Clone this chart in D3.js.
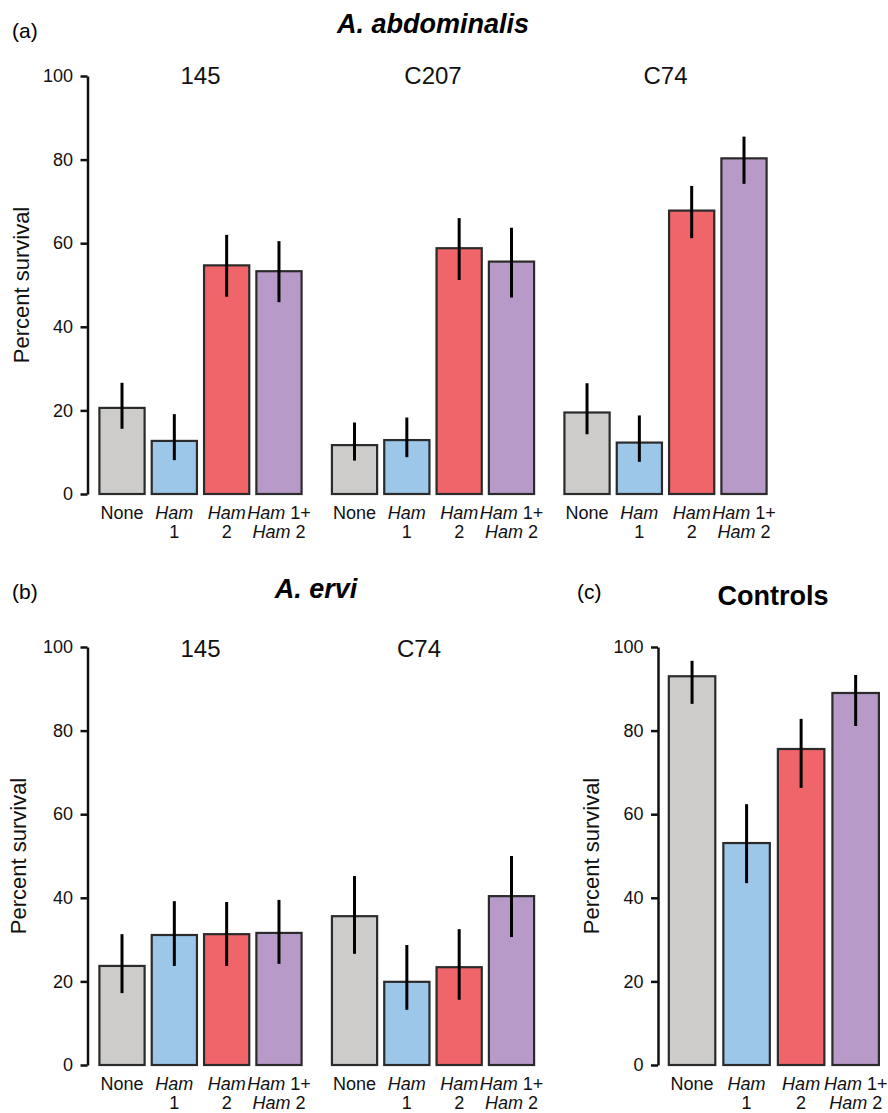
<!DOCTYPE html>
<html>
<head>
<meta charset="utf-8">
<script src="https://cdn.jsdelivr.net/npm/d3@7"></script>
<style>
  body { margin: 0; background: #fff; }
  svg { display: block; font-family: "Liberation Sans", Arial, Helvetica, sans-serif; }
</style>
</head>
<body>
<div id="chart"></div>
<script>
// treatments and tick labels (*...* = italic, | = line break)
const treatments = ['None', 'Ham 1', 'Ham 2', 'Ham 1+Ham 2'];
const treatmentLabels = ['None', '*Ham*|1', '*Ham*|2', '*Ham* 1+|*Ham* 2'];
const yTicks = [0, 20, 40, 60, 80, 100];

// (a) A. abdominalis
const abdGroups = ['145', 'C207', 'C74'];
const abdMean = [[20.6, 12.7, 54.7, 53.3], [11.7, 12.9, 58.8, 55.6], [19.5, 12.3, 67.8, 80.3]];
const abdLow = [[15.6, 8.1, 47.2, 45.9], [8.0, 8.8, 51.2, 47.0], [14.3, 7.7, 61.2, 74.2]];
const abdHigh = [[26.6, 19.1, 62.0, 60.5], [17.1, 18.3, 66.0, 63.7], [26.5, 18.8, 73.7, 85.5]];

// (b) A. ervi
const erviGroups = ['145', 'C74'];
const erviMean = [[23.7, 31.1, 31.3, 31.6], [35.6, 19.9, 23.4, 40.4]];
const erviLow = [[17.2, 23.7, 23.7, 24.2], [26.6, 13.2, 15.6, 30.6]];
const erviHigh = [[31.3, 39.2, 39.0, 39.5], [45.2, 28.7, 32.5, 50.0]];

// (c) Controls
const ctrlGroups = [''];
const ctrlMean = [[93.0, 53.1, 75.6, 89.0]];
const ctrlLow = [[86.4, 43.5, 66.3, 81.1]];
const ctrlHigh = [[96.7, 62.4, 82.8, 93.3]];

const colors = ['#cdcccb', '#9dc7e9', '#ef656a', '#b89ac8'];

const width = 888, height = 1113;

const svg = d3.select('#chart').append('svg')
    .attr('width', width)
    .attr('height', height);

const panels = [
  { tag: '(a)', tagX: 12, tagY: 38, title: 'A. abdominalis', italic: true, titleX: 433, titleY: 33,
    axisX: 87.5, y0: 494, y100: 76, x0: 98.3, x1: 767.7, groupPad: 0.121, barPad: 0.094,
    groups: abdGroups, mean: abdMean, low: abdLow, high: abdHigh, groupLabelY: 84, ylabX: 29, shift: [0, 0, 0] },
  { tag: '(b)', tagX: 12, tagY: 599, title: 'A. ervi', italic: true, titleX: 316, titleY: 598,
    axisX: 87.5, y0: 1065, y100: 647, x0: 98.3, x1: 535.2, groupPad: 0.121, barPad: 0.094,
    groups: erviGroups, mean: erviMean, low: erviLow, high: erviHigh, groupLabelY: 657, ylabX: 26, shift: [0, -14] },
  { tag: '(c)', tagX: 577, tagY: 599, title: 'Controls', italic: false, titleX: 773, titleY: 605,
    axisX: 658, y0: 1065, y100: 647, x0: 667.7, x1: 880, groupPad: 0, barPad: 0.107,
    groups: ctrlGroups, mean: ctrlMean, low: ctrlLow, high: ctrlHigh, groupLabelY: 0, ylabX: 599, shift: [0] }
];

function drawLabel(sel, str, y) {
  const lines = str.split('|');
  lines.forEach((line, li) => {
    const t = sel.append('text')
        .attr('y', y + li * 19)
        .attr('text-anchor', 'middle')
        .attr('font-size', 18)
        .attr('fill', '#111');
    line.split('*').forEach((seg, si) => {
      if (seg === '') return;
      t.append('tspan')
          .attr('font-style', si % 2 === 1 ? 'italic' : 'normal')
          .text(seg);
    });
  });
}

panels.forEach(p => {
  const y = d3.scaleLinear().domain([0, 100]).range([p.y0, p.y100]);

  const xGroup = d3.scaleBand()
      .domain(p.groups)
      .range([p.x0, p.x1])
      .paddingInner(p.groupPad)
      .paddingOuter(0);

  const xBar = d3.scaleBand()
      .domain(treatments)
      .range([0, xGroup.bandwidth()])
      .paddingInner(p.barPad)
      .paddingOuter(0);

  // panel tag + title
  svg.append('text')
      .attr('x', p.tagX).attr('y', p.tagY)
      .attr('font-size', 21)
      .text(p.tag);

  svg.append('text')
      .attr('x', p.titleX).attr('y', p.titleY)
      .attr('text-anchor', 'middle')
      .attr('font-size', 27)
      .attr('font-weight', 'bold')
      .attr('font-style', p.italic ? 'italic' : 'normal')
      .text(p.title);

  // y axis
  const axis = svg.append('g')
      .attr('transform', 'translate(' + p.axisX + ',0)')
      .call(d3.axisLeft(y).tickValues(yTicks).tickSize(7).tickSizeOuter(0).tickPadding(7.5));
  axis.select('.domain').attr('stroke', '#111').attr('stroke-width', 2.5);
  axis.selectAll('.tick line').attr('stroke', '#111').attr('stroke-width', 2.5);
  axis.selectAll('.tick text')
      .attr('font-size', 18)
      .attr('fill', '#111')
      .style('font-family', '"Liberation Sans", Arial, sans-serif');

  svg.append('text')
      .attr('transform', 'translate(' + p.ylabX + ',' + ((p.y0 + p.y100) / 2) + ') rotate(-90)')
      .attr('text-anchor', 'middle')
      .attr('font-size', 22)
      .attr('fill', '#111')
      .text('Percent survival');

  p.groups.forEach((grp, gi) => {
    const g = svg.append('g')
        .attr('transform', 'translate(' + xGroup(grp) + ',0)');

    if (grp !== '') {
      svg.append('text')
          .attr('x', xGroup(grp) + xGroup.bandwidth() / 2 + p.shift[gi])
          .attr('y', p.groupLabelY)
          .attr('text-anchor', 'middle')
          .attr('font-size', 24)
          .attr('fill', '#111')
          .text(grp);
    }

    const sw = 2.2;
    treatments.forEach((tr, ti) => {
      const bx = xBar(tr);
      g.append('rect')
          .attr('x', bx + sw / 2)
          .attr('width', xBar.bandwidth() - sw)
          .attr('y', y(p.mean[gi][ti]))
          .attr('height', y(0) - y(p.mean[gi][ti]))
          .attr('fill', colors[ti])
          .attr('stroke', '#2b2b2b')
          .attr('stroke-width', sw);

      const cx = bx + xBar.bandwidth() / 2;
      g.append('line')
          .attr('x1', cx).attr('x2', cx)
          .attr('y1', y(p.low[gi][ti]))
          .attr('y2', y(p.high[gi][ti]))
          .attr('stroke', '#000')
          .attr('stroke-width', 3);

      const lab = g.append('g').attr('transform', 'translate(' + cx + ',0)');
      drawLabel(lab, treatmentLabels[ti], p.y0 + 25);
    });
  });
});
</script>
</body>
</html>
